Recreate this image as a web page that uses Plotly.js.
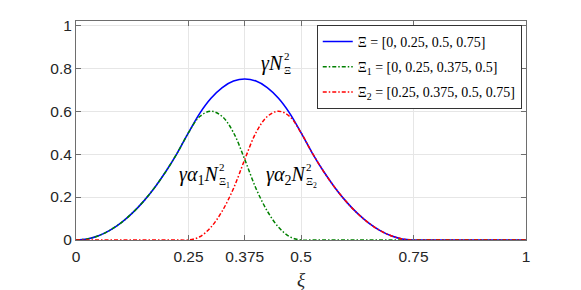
<!DOCTYPE html>
<html>
<head>
<meta charset="utf-8">
<script src="https://cdn.plot.ly/plotly-3.0.1.min.js"></script>
<style>html,body{margin:0;padding:0;background:#fff;}#chart{width:581px;height:290px;}</style>
</head>
<body>
<div id="chart"></div>
<script>
// sample positions along xi
const xi = [0,0.025,0.05,0.075,0.1,0.125,0.15,0.175,0.2,0.225,0.25,0.275,0.3,0.325,0.35,0.375,0.4,0.425,0.45,0.475,0.5,0.525,0.55,0.575,0.6,0.625,0.65,0.675,0.7,0.725,0.75,0.8,0.85,0.9,0.95,1];
// gamma * N^2 over Xi = [0,0.25,0.5,0.75]
const nXi = [0,0.005,0.02,0.045,0.08,0.125,0.18,0.245,0.32,0.405,0.5,0.59,0.66,0.71,0.74,0.75,0.74,0.71,0.66,0.59,0.5,0.405,0.32,0.245,0.18,0.125,0.08,0.045,0.02,0.005,0,0,0,0,0,0];
// gamma * alpha1 * N^2 over Xi1 = [0,0.25,0.375,0.5]
const nXi1 = [0,0.005,0.02,0.045,0.08,0.125,0.18,0.245,0.32,0.405,0.5,0.575,0.6,0.575,0.5,0.375,0.24,0.135,0.06,0.015,0,0,0,0,0,0,0,0,0,0,0,0,0,0,0,0];
// gamma * alpha2 * N^2 over Xi2 = [0.25,0.375,0.5,0.75]
const nXi2 = [0,0,0,0,0,0,0,0,0,0,0,0.015,0.06,0.135,0.24,0.375,0.5,0.575,0.6,0.575,0.5,0.405,0.32,0.245,0.18,0.125,0.08,0.045,0.02,0.005,0,0,0,0,0,0];

const xTicks = [0,0.25,0.375,0.5,0.75,1];
const xTickText = ['0','0.25','0.375','0.5','0.75','1'];
const yTicks = [0,0.2,0.4,0.6,0.8,1];
const yTickText = ['0','0.2','0.4','0.6','0.8','1'];
const legendNames = ['Ξ = [0, 0.25, 0.5, 0.75]','Ξ<sub>1</sub> = [0, 0.25, 0.375, 0.5]','Ξ<sub>2</sub> = [0.25, 0.375, 0.5, 0.75]'];

const serif = 'Liberation Serif, DejaVu Serif, serif';
const dashdot = '4px,2px,1.5px,2px';

const traces = [
  {x: xi, y: nXi, name: legendNames[0], legendgroup:'a', mode:'lines', line:{color:'#0000ff', width:1.6, shape:'spline'}},
  {x: xi, y: nXi1, name: legendNames[1], legendgroup:'b', mode:'lines', line:{color:'#008000', width:1.5, dash:dashdot, shape:'spline'}},
  {x: xi, y: nXi2, name: legendNames[2], legendgroup:'c', mode:'lines', line:{color:'#ff0000', width:1.5, dash:dashdot, shape:'spline'}}
];

function lab(x, y, text, anchor, size, shift) {
  return {x:x, y:y, xref:'x', yref:'y', text:text, showarrow:false, xanchor:anchor, yanchor:'middle', align:'left',
          xshift:shift || 0, font:{family:serif, size:size, color:'#000'}, borderpad:0};
}
const annotations = [
  lab(0.4644, 0.82, '<i>γN</i>', 'right', 20),
  lab(0.4644, 0.824, '2<br>Ξ', 'left', 11, -2),
  lab(0.32, 0.300, '<i>γα</i><sub>1</sub><i>N</i>', 'right', 20),
  lab(0.32, 0.300, '2<br>Ξ<sub>1</sub>', 'left', 11, -2),
  lab(0.5133, 0.300, '<i>γα</i><sub>2</sub><i>N</i>', 'right', 20),
  lab(0.5133, 0.300, '2<br>Ξ<sub>2</sub>', 'left', 11, -2)
];

const axisCommon = {
  showline:true, linecolor:'#6e6e6e', linewidth:1, mirror:'ticks',
  ticks:'inside', ticklen:5, tickcolor:'#6e6e6e', tickwidth:1,
  showgrid:true, gridcolor:'#e6e6e6', gridwidth:1, zeroline:false,
  tickfont:{family:'Liberation Sans, Arial, sans-serif', size:15.5, color:'#262626'}
};

const layout = {
  width:581, height:290,
  margin:{l:76, r:55, t:21, b:50},
  paper_bgcolor:'#fff', plot_bgcolor:'#fff',
  showlegend:true,
  xaxis:Object.assign({}, axisCommon, {range:[0,1], tickmode:'array', tickvals:xTicks, ticktext:xTickText, ticklabelstandoff:2,
    title:{text:'<i>ξ</i>', font:{family:serif, size:19, color:'#262626'}, standoff:12}}),
  yaxis:Object.assign({}, axisCommon, {range:[0,1.02], tickmode:'array', tickvals:yTicks, ticktext:yTickText}),
  legend:{x:0.535, y:0.982, xanchor:'left', yanchor:'top', bgcolor:'#fff', bordercolor:'#333', borderwidth:1,
    font:{family:serif, size:14, color:'#000'}, tracegroupgap:4, itemwidth:30},
  annotations:annotations
};

Plotly.newPlot('chart', traces, layout, {displayModeBar:false, staticPlot:true});
</script>
</body>
</html>
